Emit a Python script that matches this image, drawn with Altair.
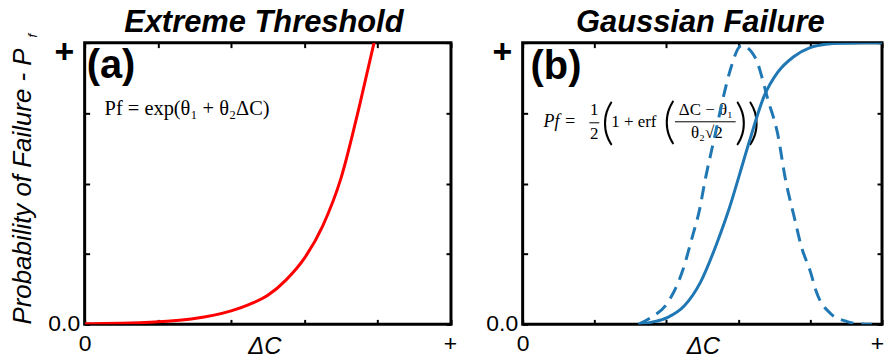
import altair as alt
import pandas as pd

# ---------------- data ----------------
# panel (a): extreme threshold curve
a_dc = [0.0, 0.05, 0.10, 0.15, 0.20, 0.25, 0.30, 0.35, 0.40, 0.45, 0.50,
        0.55, 0.60, 0.65, 0.70, 0.75, 0.79]
a_pf = [0.002, 0.003, 0.004, 0.006, 0.009, 0.014, 0.021, 0.032, 0.048, 0.071,
        0.103, 0.158, 0.235, 0.350, 0.520, 0.775, 1.0]

# panel (b): Gaussian failure, cumulative (solid)
b_dc_cdf = [0.322, 0.36, 0.404, 0.450, 0.495, 0.541, 0.577, 0.603, 0.631,
            0.672, 0.71, 0.754, 0.80, 0.85, 0.89, 0.95, 1.0]
b_pf_cdf = [0.0, 0.008, 0.025, 0.066, 0.150, 0.290, 0.420, 0.530, 0.650,
            0.810, 0.895, 0.950, 0.982, 0.995, 0.998, 1.0, 1.0]

# panel (b): Gaussian failure, density (dashed)
b_dc_pdf = [0.322, 0.358, 0.404, 0.445, 0.472, 0.491, 0.509, 0.535, 0.559,
            0.577, 0.609, 0.650, 0.663, 0.682, 0.709, 0.732, 0.754, 0.777,
            0.800, 0.818, 0.859, 0.895, 0.941, 0.972]
b_pf_pdf = [0.0, 0.025, 0.078, 0.19, 0.31, 0.40, 0.52, 0.67, 0.81, 0.90,
            0.99, 0.94, 0.89, 0.80, 0.68, 0.51, 0.39, 0.27, 0.19, 0.113,
            0.036, 0.013, 0.001, 0.0]

x_tick_values = [0, 0.2, 0.4, 0.6, 0.8, 1.0]
y_tick_values = [0, 0.25, 0.5, 0.75, 1.0]

panel_titles = ["Extreme Threshold", "Gaussian Failure"]
panel_tags = ["(a)", "(b)"]
x_title = "ΔC"
y_title = "Probability of Failure - P"
y_title_sub = "f"
eq_a_text = "Pf =  exp(θ₁ + θ₂ΔC)"
eq_b_parts = ["Pf =", "1", "2", "(", "1 + erf", "(", "ΔC − θ₁", "θ₂√2", "))"]

# ---------------- styling ----------------
SANS = "Liberation Sans"
SERIF = "Liberation Serif"
PAREN = "Lato"
W_A, W_B, H = 368, 361, 283
RED = "#ff0000"
BLUE = "#1f77b4"

x_label_expr = "datum.value == 0 ? '0' : (datum.value == 1 ? '+' : '')"
y_label_expr = "datum.value == 0 ? '0.0' : (datum.value == 1 ? '+' : '')"


def scale():
    return alt.Scale(domain=[0, 1], nice=False, zero=False)


def x_axis(plus_shift):
    return alt.Axis(
        values=x_tick_values, labelExpr=x_label_expr, domain=False, grid=False,
        ticks=True, tickSize=5, tickWidth=2, tickColor="black", offset=-5,
        minExtent=0, maxExtent=200,
        labelPadding=8, labelFont=SANS, labelFontSize=23, labelColor="black",
        labelOverlap=False, labelBound=False, labelFlush=False,
        labelOffset={"condition": {"test": "datum.value == 1", "value": plus_shift}, "value": 0},
        title=None,
    )


def y_axis():
    return alt.Axis(
        values=y_tick_values, labelExpr=y_label_expr, domain=False, grid=False,
        ticks=True, tickSize=5, tickWidth=2, tickColor="black", offset=-5,
        minExtent=0, maxExtent=200,
        labelPadding={"condition": {"test": "datum.value == 1", "value": 11}, "value": 5},
        labelFont=SANS,
        labelFontSize={"condition": {"test": "datum.value == 1", "value": 34}, "value": 23},
        labelFontWeight={"condition": {"test": "datum.value == 1", "value": "bold"}, "value": "normal"},
        labelOffset={"condition": {"test": "datum.value == 1", "value": 10}, "value": -1},
        labelColor="black", labelOverlap=False, labelBound=False, labelFlush=False,
        labelBaseline="middle", title=None,
    )


def top_axis():
    return alt.Axis(orient="top", values=x_tick_values, labels=False, title=None,
                    domain=False, grid=False, ticks=True, tickSize=5, tickWidth=2,
                    tickColor="black", offset=-5, minExtent=0, maxExtent=0)


def right_axis():
    return alt.Axis(orient="right", values=y_tick_values, labels=False, title=None,
                    domain=False, grid=False, ticks=True, tickSize=5, tickWidth=2,
                    tickColor="black", offset=-5, minExtent=0, maxExtent=0)


def label(text, x, y, size, font=SERIF, style="normal", weight="normal",
          align="left", baseline="alphabetic", angle=0):
    return alt.Chart(pd.DataFrame({"t": [text]})).mark_text(
        align=align, baseline=baseline, font=font, fontSize=size, fontStyle=style,
        fontWeight=weight, color="black", angle=angle,
    ).encode(x=alt.value(x), y=alt.value(y), text="t:N")


def bar(x1, x2, y):
    return alt.Chart(pd.DataFrame({"k": [0]})).mark_rule(color="black", strokeWidth=1).encode(
        x=alt.value(x1), x2=alt.value(x2), y=alt.value(y))


def title(text, dx, offset):
    return alt.Title(text, font=SANS, fontSize=31, fontWeight="bold", fontStyle="italic",
                     color="black", offset=offset, anchor="middle", dx=dx)


# ---------------- panel (a) ----------------
a_df = pd.DataFrame({"dc": a_dc, "pf": a_pf})
line_a = alt.Chart(a_df).mark_line(color=RED, strokeWidth=3, interpolate="monotone", clip=True).encode(
    x=alt.X("dc:Q", scale=scale(), axis=x_axis(-1)),
    y=alt.Y("pf:Q", scale=scale(), axis=y_axis()),
)
ticks_a = alt.Chart(a_df).mark_line(opacity=0).encode(
    x=alt.X("dc:Q", scale=scale(), axis=top_axis()),
    y=alt.Y("pf:Q", scale=scale(), axis=right_axis()),
)
panel_a = alt.layer(
    alt.layer(
        label(y_title, -54, H / 2 + 3, 26, font=SANS, style="italic", align="center", angle=270),
        label(y_title_sub, -48, -7, 13, font=SANS, style="italic", align="center", angle=270),
        label(x_title, W_A / 2 - 3, H + 30, 24, font=SANS, style="italic", align="center"),
        label(panel_tags[0], 2, 36, 40, font=SANS, weight="bold"),
        label(eq_a_text, 20, 73, 20.5),
        line_a,
    ),
    ticks_a,
).resolve_scale(x="independent", y="independent").properties(
    width=W_A, height=H, title=title(panel_titles[0], -4, -5.5))

# ---------------- panel (b) ----------------
cdf_df = pd.DataFrame({"dc": b_dc_cdf, "pf": b_pf_cdf})
pdf_df = pd.DataFrame({"dc": b_dc_pdf, "pf": b_pf_pdf})
line_cdf = alt.Chart(cdf_df).mark_line(color=BLUE, strokeWidth=3, interpolate="monotone", clip=True).encode(
    x=alt.X("dc:Q", scale=scale(), axis=x_axis(-5)),
    y=alt.Y("pf:Q", scale=scale(), axis=y_axis()),
)
line_pdf = alt.Chart(pdf_df).mark_line(color=BLUE, strokeWidth=3, strokeDash=[13, 8],
                                       interpolate="monotone", clip=True).encode(
    x=alt.X("dc:Q", scale=scale()),
    y=alt.Y("pf:Q", scale=scale()),
)
ticks_b = alt.Chart(cdf_df).mark_line(opacity=0).encode(
    x=alt.X("dc:Q", scale=scale(), axis=top_axis()),
    y=alt.Y("pf:Q", scale=scale(), axis=right_axis()),
)
eq_b = [
    label(eq_b_parts[0], 21, 85, 18, style="italic"),
    label(eq_b_parts[1], 72, 73, 17, align="center"),
    bar(67, 77, 80.5),
    label(eq_b_parts[2], 72, 97, 17, align="center"),
    label(eq_b_parts[3], 79, 97, 50, font=PAREN, weight=300),
    label(eq_b_parts[4], 89, 85, 17),
    label(eq_b_parts[5], 141, 96, 50, font=PAREN, weight=300),
    label(eq_b_parts[6], 184, 73, 17, align="center"),
    bar(153, 214, 79.5),
    label(eq_b_parts[7], 185, 96, 17, align="center"),
    label(eq_b_parts[8], 213, 97, 50, font=PAREN, weight=300),
]
panel_b = alt.layer(
    alt.layer(
        label(x_title, W_B / 2 + 1, H + 30, 24, font=SANS, style="italic", align="center"),
        label(panel_tags[1], 8, 37, 40, font=SANS, weight="bold"),
        *eq_b,
        line_pdf,
        line_cdf,
    ),
    ticks_b,
).resolve_scale(x="independent", y="independent").properties(
    width=W_B, height=H, title=title(panel_titles[1], -2, -3))

chart = alt.hconcat(panel_a, panel_b, spacing=25).properties(
    padding={"left": 0, "top": -4, "right": 0, "bottom": 0}
).configure_view(stroke="black", strokeWidth=3)

chart.save("out.html", embed_options={"renderer": "svg", "actions": False})
